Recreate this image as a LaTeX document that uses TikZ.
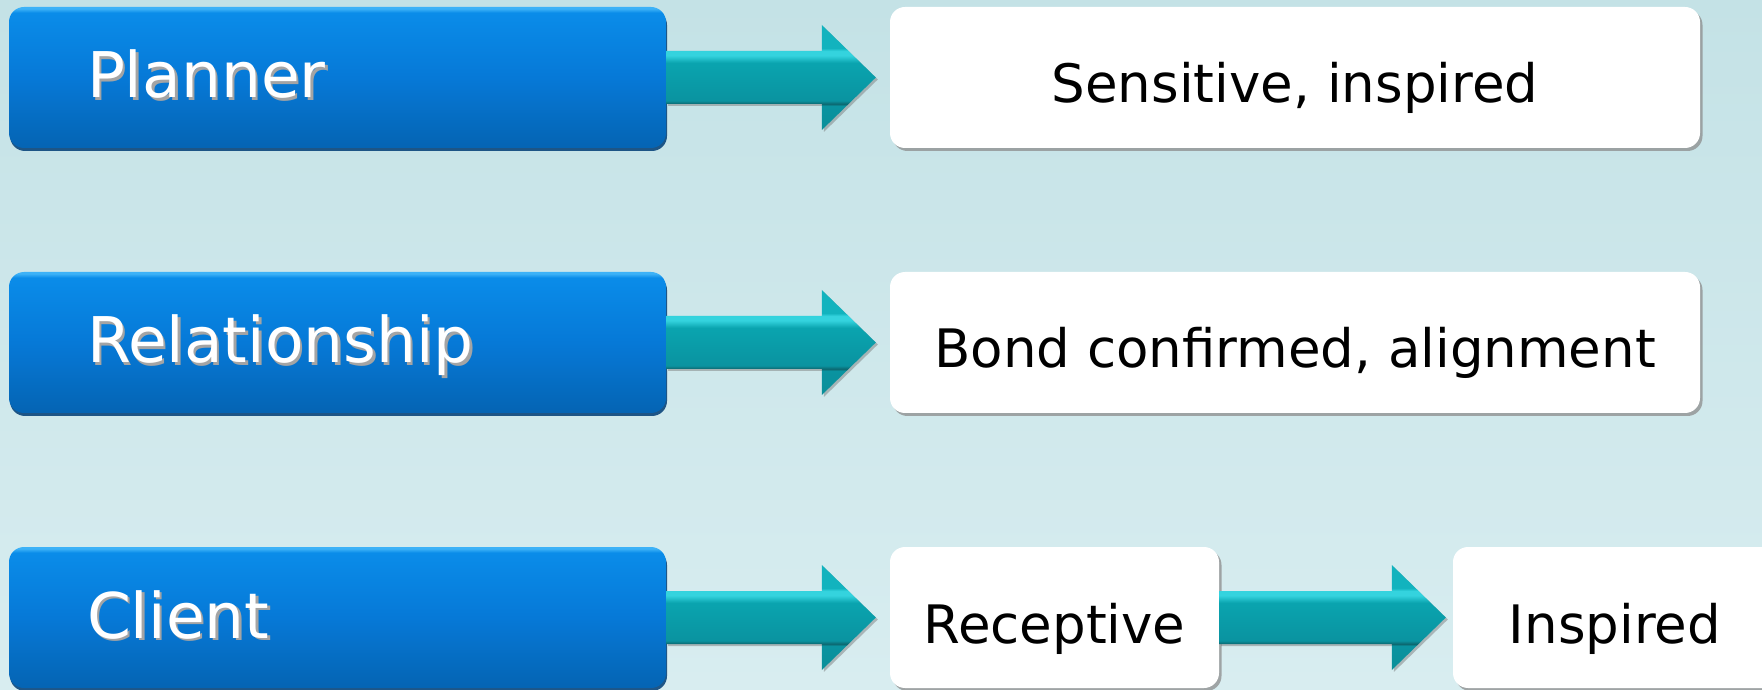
\documentclass[tikz,border=0pt]{standalone}
\usepackage{fontspec}
\setmainfont{DejaVu Sans}
\usetikzlibrary{calc,shadows}

% palette
\definecolor{bgTop}{HTML}{C4E2E6}
\definecolor{bgBot}{HTML}{D8EDF0}
\definecolor{blueHi}{HTML}{3DB2F7}
\definecolor{blueTop}{HTML}{0A8CE9}
\definecolor{blueMid}{HTML}{0679D7}
\definecolor{blueBot}{HTML}{0564B3}
\definecolor{blueEdge}{HTML}{0B467C}
\definecolor{tealHead}{HTML}{12B3BE}
\definecolor{tealTop}{HTML}{34D3DE}
\definecolor{tealMid}{HTML}{0AA4AF}
\definecolor{tealLow}{HTML}{0A93A0}
\definecolor{tealEdge}{HTML}{0C6870}
\definecolor{tealDeep}{HTML}{0A8F99}
\definecolor{txtShade}{HTML}{A4A4A4}

% glossy bands for the role boxes and the block arrows
\pgfdeclareverticalshading{roleband}{100bp}{color(0bp)=(blueBot); color(25bp)=(blueBot);
  color(50bp)=(blueMid); color(73bp)=(blueTop); color(74.4bp)=(blueHi); color(100bp)=(blueHi)}
\pgfdeclareverticalshading{tealband}{100bp}{color(0bp)=(tealDeep); color(25bp)=(tealDeep);
  color(36.5bp)=(tealLow); color(37.4bp)=(tealEdge); color(39bp)=(tealLow); color(57bp)=(tealMid);
  color(60.5bp)=(tealTop); color(62.6bp)=(tealTop); color(64bp)=(tealHead); color(100bp)=(tealHead)}

% white lettering with a soft grey drop
\newcommand\embossed[1]{\makebox[0pt][l]{\kern2.5pt\raisebox{-2.5pt}{\textcolor{txtShade}{#1}}}\textcolor{white}{#1}}

\tikzset{
  rolebox/.style={rounded corners=15pt, minimum height=141pt, minimum width=657pt,
    text width=501pt, inner xsep=78pt, align=left, shading=roleband,
    text height=45pt, text depth=4pt, font=\fontsize{63}{70}\selectfont,
    general shadow={shadow xshift=1pt, shadow yshift=-3pt, fill=blueEdge, opacity=0.9}},
  statebox/.style={rounded corners=15pt, minimum height=141pt, inner sep=0pt,
    fill=white, text height=53pt, text depth=2pt, font=\fontsize{53}{60}\selectfont,
    general shadow={shadow xshift=2.5pt, shadow yshift=-3pt, fill=black!45, opacity=0.75}},
  flowarrow/.style={shading=tealband,
    general shadow={shadow xshift=2pt, shadow yshift=-2pt, fill=black!55, opacity=0.45}}
}

% block arrow from the east side of #1 to just short of the west side of #2 (gap #3 pt)
\newcommand\flowto[3]{%
  \path[flowarrow] let \p1=(#1.east), \p2=(#2.west) in
    (\x1,\y1+26.5pt) -- (\x2-#3pt-54pt,\y1+26.5pt) -- (\x2-#3pt-54pt,\y1+52.5pt)
    -- (\x2-#3pt,\y1) -- (\x2-#3pt-54pt,\y1-52.5pt) -- (\x2-#3pt-54pt,\y1-26.5pt)
    -- (\x1,\y1-26.5pt) -- cycle;}

\begin{document}
\begin{tikzpicture}[x=1pt,y=1pt]
  \useasboundingbox (0,0) rectangle (1762,689);
  \clip (0,0) rectangle (1762,689);
  \fill[top color=bgTop, bottom color=bgBot] (0,0) rectangle (1762,689);

  % roles
  \node[rolebox] (planner)  at (337.5,611.5) {\embossed{Planner}};
  \node[rolebox] (relation) at (337.5,346.5) {\embossed{Relationship}};
  \node[rolebox] (client)   at (337.5,71.5)  {\embossed{Client}};

  % states
  \node[statebox, minimum width=810pt] (sensitive) at (1295,611.5) {Sensitive, inspired};
  \node[statebox, minimum width=810pt] (bond)      at (1295,346.5) {Bond confirmed, alignment};
  \node[statebox, minimum width=329pt] (receptive) at (1054.5,71.5) {Receptive};
  \node[statebox, minimum width=324pt] (inspired)  at (1615,71.5)   {Inspired};

  % flows
  \flowto{planner}{sensitive}{14}
  \flowto{relation}{bond}{14}
  \flowto{client}{receptive}{14}
  \flowto{receptive}{inspired}{7}
\end{tikzpicture}
\end{document}
